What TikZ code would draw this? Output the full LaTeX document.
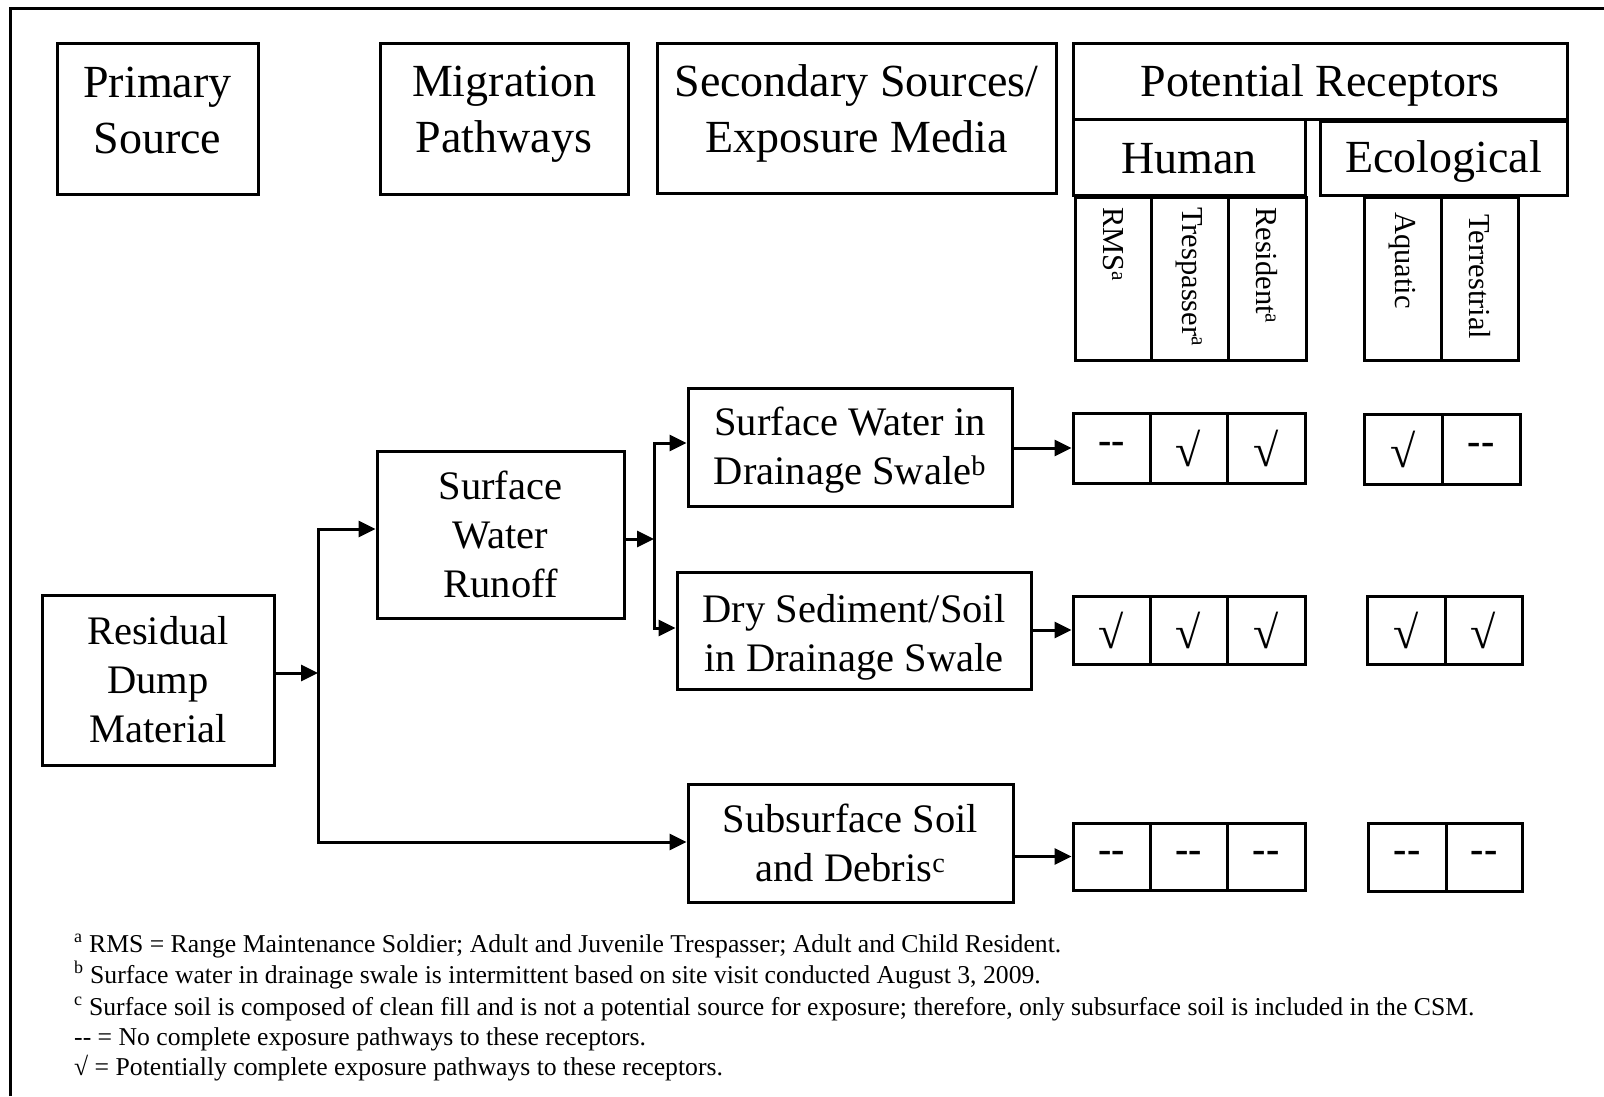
\documentclass[tikz,border=0pt]{standalone}
\usepackage{fontspec}
\setmainfont{Liberation Serif}
\usetikzlibrary{arrows.meta}
\newcommand\dd{\textbf{\mbox{-}\mbox{-}}}
\newcommand\ck{{\fontsize{46}{46}\selectfont √}}
\begin{document}
\begin{tikzpicture}[x=1pt,y=-1pt,
  box/.style={draw, line width=3pt, inner sep=0pt, align=center},
  txt/.style={inner sep=0pt, align=center},
  hfont/.style={font=\fontsize{46}{56}\selectfont},
  bfont/.style={font=\fontsize{40.5}{49}\selectfont},
  cell/.style={box, font=\fontsize{40}{40}\selectfont},
  col/.style={draw, line width=3pt, inner sep=0pt},
  lab/.style={rotate=-90, anchor=west, inner sep=0pt, font=\fontsize{30.5}{32}\selectfont},
  link/.style={line width=3pt, line cap=rect},
  arr/.style={line width=3pt, -{Triangle[length=17pt,width=16pt]}},
  note/.style={anchor=base west, inner sep=0pt, font=\fontsize{25.7}{28}\selectfont},
  frame/.style={line width=3pt}]
\useasboundingbox (0,0) rectangle (1604,1096);
\draw[frame] (10,1096) -- (10,8) -- (1604,8);

% header boxes
\node[box,minimum width=201pt,minimum height=151pt] (ps) at (157.5,118.5) {};
\node[txt,hfont] (pst) at ([yshift=8pt]ps.center) {Primary\\Source};
\node[box,minimum width=248pt,minimum height=151pt] (mp) at (504,118.5) {};
\node[txt,hfont] (mpt) at ([yshift=4pt]mp.center) {Migration\\Pathways};
\node[box,minimum width=399pt,minimum height=150pt] (ss) at (856.5,118) {};
\node[txt,hfont] (sst) at ([yshift=5pt]ss.center) {Secondary Sources/\\Exposure Media};
\node[box,minimum width=494pt,minimum height=76pt] (pr) at (1320,81) {};
\node[txt,hfont] (prt) at ([yshift=-4pt]pr.center) {Potential Receptors};
\node[box,minimum width=232pt,minimum height=76pt] (hum) at (1189,157) {};
\node[txt,hfont] (humt) at ([yshift=-2pt]hum.center) {Human};
\node[box,minimum width=247pt,minimum height=74pt] (eco) at (1443.5,158) {};
\node[txt,hfont] (ecot) at ([yshift=-3pt]eco.center) {Ecological};

% receptor columns
\node[col,minimum width=76pt,minimum height=163pt] (hc1) at (1113,278.5) {};
\node[col,minimum width=77pt,minimum height=163pt] (hc2) at (1189.5,278.5) {};
\node[col,minimum width=78pt,minimum height=163pt] (hc3) at (1267,278.5) {};
\node[col,minimum width=77pt,minimum height=163pt] (ec1) at (1402.5,278.5) {};
\node[col,minimum width=77pt,minimum height=163pt] (ec2) at (1479.5,278.5) {};
\node[lab] (l1) at (1113,207) {RMS\textsuperscript{a}};
\node[lab] (l2) at (1189.5,207) {Trespasser\textsuperscript{a}};
\node[lab] (l3) at (1267,207) {Resident\textsuperscript{a}};
\node[lab] (l4) at (1402.5,212) {Aquatic};
\node[lab] (l5) at (1479.5,214) {Terrestrial};

% flow boxes
\node[box,bfont,minimum width=232pt,minimum height=170pt] (rd) at (158,680) {Residual\\Dump\\Material};
\node[box,bfont,minimum width=247pt,minimum height=167pt] (swr) at (500.5,534.5) {Surface\\Water\\Runoff};
\node[box,minimum width=324pt,minimum height=118pt] (swd) at (850,447) {};
\node[txt,bfont] (swdt) at ([yshift=-3pt]swd.center) {Surface Water in\\Drainage Swale\textsuperscript{b}};
\node[box,minimum width=354pt,minimum height=117pt] (dry) at (854,630.5) {};
\node[txt,bfont] (dryt) at ([yshift=-7pt]dry.center) {Dry Sediment/Soil\\in Drainage Swale};
\node[box,bfont,minimum width=325pt,minimum height=118pt] (sub) at (850.5,843) {Subsurface Soil\\and Debris\textsuperscript{c}};

% receptor cells row 1
\node[cell,minimum width=77pt,minimum height=70pt] (h11) at (1111.5,448) {\dd};
\node[cell,minimum width=77pt,minimum height=70pt] (h12) at (1188.5,448) {\ck};
\node[cell,minimum width=78pt,minimum height=70pt] (h13) at (1266,448) {\ck};
\node[cell,minimum width=78pt,minimum height=70pt] (e11) at (1403,449) {\ck};
\node[cell,minimum width=78pt,minimum height=70pt] (e12) at (1481,449) {\dd};
% row 2
\node[cell,minimum width=77pt,minimum height=68pt] (h21) at (1111.5,630) {\ck};
\node[cell,minimum width=77pt,minimum height=68pt] (h22) at (1188.5,630) {\ck};
\node[cell,minimum width=78pt,minimum height=68pt] (h23) at (1266,630) {\ck};
\node[cell,minimum width=78pt,minimum height=68pt] (e21) at (1406,630) {\ck};
\node[cell,minimum width=77pt,minimum height=68pt] (e22) at (1483.5,630) {\ck};
% row 3
\node[cell,minimum width=77pt,minimum height=67pt] (h31) at (1111.5,856.5) {\dd};
\node[cell,minimum width=77pt,minimum height=67pt] (h32) at (1188.5,856.5) {\dd};
\node[cell,minimum width=78pt,minimum height=67pt] (h33) at (1266,856.5) {\dd};
\node[cell,minimum width=78pt,minimum height=68pt] (e31) at (1407,857) {\dd};
\node[cell,minimum width=76pt,minimum height=68pt] (e32) at (1484,857) {\dd};

% connectors
\coordinate (j1) at (318,673);
\coordinate (jt) at (318,529);
\coordinate (jb) at (318,842);
\coordinate (k1) at (654,539);
\coordinate (kt) at (654,443);
\coordinate (kb) at (654,628);
\draw[arr] (rd.east |- j1) -- (j1);
\draw[link] (jt) -- (jb);
\draw[arr] (jt) -- (swr.west |- jt);
\draw[arr] (jb) -- (sub.west |- jb);
\draw[arr] (swr.east |- k1) -- (k1);
\draw[link] (kt) -- (kb);
\draw[arr] (kt) -- (swd.west |- kt);
\draw[arr] (kb) -- (dry.west |- kb);
\draw[arr] (swd.east |- h11.west) -- (h11.west);
\draw[arr] (dry.east |- h21.west) -- (h21.west);
\draw[arr] (sub.east |- h31.west) -- (h31.west);

% footnotes
\node[note] (n1) at (74,952) {\textsuperscript{a} RMS = Range Maintenance Soldier; Adult and Juvenile Trespasser; Adult and Child Resident.};
\node[note] (n2) at (74,983) {\textsuperscript{b} Surface water in drainage swale is intermittent based on site visit conducted August 3, 2009.};
\node[note] (n3) at (74,1015) {\textsuperscript{c} Surface soil is composed of clean fill and is not a potential source for exposure; therefore, only subsurface soil is included in the CSM.};
\node[note] (n4) at (74,1045) {\mbox{-}\mbox{-} = No complete exposure pathways to these receptors.};
\node[note] (n5) at (74,1075) {√ = Potentially complete exposure pathways to these receptors.};
\end{tikzpicture}
\end{document}
